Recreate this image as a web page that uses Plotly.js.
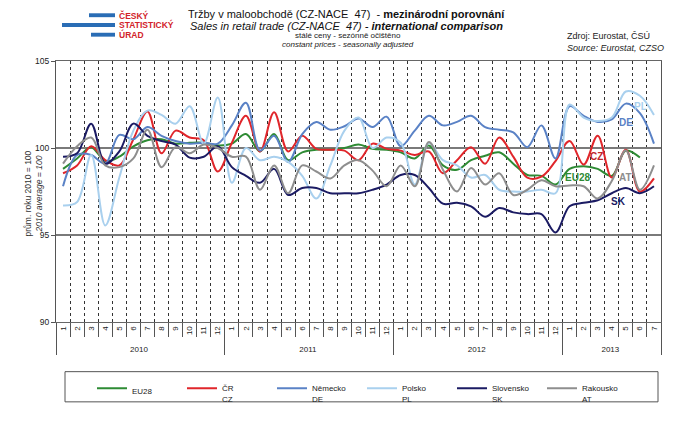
<!DOCTYPE html>
<html><head><meta charset="utf-8">
<script src="https://cdn.plot.ly/plotly-3.0.1.min.js"></script>
<style>html,body{margin:0;padding:0;background:#fff}#chart{width:688px;height:422px}</style>
</head><body><div id="chart"></div>
<script>
// Categories
const years = ['2010', '2011', '2012', '2013'];
const monthsPerYear = [12, 12, 12, 7];

// Series values (2010 average = 100), Jan 2010 .. Jul 2013
const eu28 = [98.8, 99.4, 100.05, 99.25, 99.5, 100.1, 100.45, 100.5, 100.25, 100.3, 100.3, 100.15,
  100.25, 100.8, 99.8, 100.8, 99.3, 99.75, 99.9, 99.9, 100.0, 100.2, 99.95, 99.9,
  99.75, 99.4, 100.15, 99.0, 98.75, 99.3, 99.55, 99.75, 99.1, 98.45, 98.4, 97.9,
  98.8, 98.95, 98.8, 98.4, 99.85, 99.45, null];
const cz = [98.55, 99.0, 100.1, 99.3, 99.0, 100.5, 102.1, 99.7, 101.0, 100.6, 100.45, 98.65,
  100.3, 101.85, 99.8, 102.05, 99.8, 100.7, 99.95, 99.9, 99.85, 99.3, 100.25, 99.95,
  99.85, 99.6, 99.8, 98.55, 99.3, 100.05, 99.1, 100.6, 99.5, 98.3, 98.35, 99.25,
  100.4, 99.05, 100.7, 98.3, 99.9, 97.5, 98.25];
const de = [97.8, 99.6, 99.6, 99.1, 100.75, 100.5, 101.2, 100.7, 100.4, 100.25, 100.3, 100.25,
  101.3, 102.6, 99.85, 100.7, 99.2, 100.8, 101.5, 101.05, 101.25, 101.7, 101.2, 101.8,
  100.1, 101.0, 101.85, 101.3, 101.5, 101.85, 101.2, 101.05, 100.9, 100.05, 101.3, 99.4,
  102.4, 101.85, 101.5, 101.65, 102.55, 102.0, 100.25];
const pl = [96.7, 96.9, 99.6, 95.55, 98.3, 101.0, 102.15, 101.9, 101.4, 102.4, 100.25, 102.9,
  98.0, 100.0, 99.3, 99.5, 99.2, 98.4, 97.1, 99.0, 101.0, 101.75, 100.0, 100.6,
  100.3, 97.9, 100.3, 99.3, 99.0, 98.3, 98.45, 97.6, 97.5, 97.5, 97.6, 97.4,
  102.5, 101.75, 101.55, 101.75, 103.25, 103.0, 101.9];
const sk = [99.5, 99.7, 101.4, 99.1, 99.8, 101.4, 100.7, 100.4, 100.2, 99.45, 99.5, 100.1,
  98.9, 98.4, 98.0, 98.8, 97.3, 97.7, 97.7, 97.4, 97.4, 97.4, 97.6, 97.9,
  98.45, 98.45, 97.7, 96.8, 96.85, 96.65, 96.05, 96.55, 96.3, 96.2, 96.2, 95.15,
  96.65, 96.85, 97.0, 97.4, 97.7, 97.4, 97.8];
const at = [99.1, 100.1, 100.6, 99.0, 98.9, 99.4, 101.05, 98.9, 100.05, 99.7, 100.2, 100.0,
  99.5, 99.5, 97.6, 99.0, 97.4, 99.0, 98.65, 98.25, 99.0, 99.3, 98.7, 97.8,
  99.0, 97.8, 100.35, 98.75, 97.5, 98.85, 97.9, 98.55, 97.3, 97.6, 98.15, 97.8,
  97.85, 97.8, 97.1, 98.1, 99.85, 97.6, 99.0];

const seriesNames = ['EU28', 'ČR<br>CZ', 'Německo<br>DE', 'Polsko<br>PL', 'Slovensko<br>SK', 'Rakousko<br>AT'];
const seriesColors = ['#2e8b34', '#e0262b', '#5a82c6', '#a9d0ee', '#1b1b63', '#8e8e8e'];
const yTicks = [90, 95, 100, 105];

// build the two-level category axis
const yearCat = [], monthCat = [];
years.forEach((y, k) => { for (let m = 1; m <= monthsPerYear[k]; m++) { yearCat.push(y); monthCat.push(String(m)); } });

const values = [eu28, cz, de, pl, sk, at];
const traces = values.map((v, i) => ({
  type: 'scatter', mode: 'lines',
  x: [yearCat, monthCat], y: v,
  name: seriesNames[i],
  line: { color: seriesColors[i], width: 2, shape: 'spline', smoothing: 1 },
  connectgaps: false, hoverinfo: 'skip'
}));

// pixel -> paper helpers (plot area 56..661 x 61..329)
const L = 56, R = 661, T = 61, B = 329;
const px = x => (x - L) / (R - L);
const py = y => (B - y) / (B - T);
const FONT = 'Liberation Sans, Arial, sans-serif';

function ann(text, x, y, size, color, opts) {
  return Object.assign({ text, x: px(x), y: py(y), xref: 'paper', yref: 'paper', showarrow: false,
    font: { family: FONT, size, color }, xanchor: 'center', yanchor: 'middle' }, opts || {});
}

const annotations = [
  ann('Tržby v maloobchodě (CZ-NACE  47)  - <b>mezinárodní porovnání</b>', 346, 13, 11, '#111'),
  ann('<i>Sales in retail trade (CZ-NACE  47) - <b>international comparison</b></i>', 346, 25, 11, '#111'),
  ann('stálé ceny - sezónně očištěno', 348, 35, 8, '#222'),
  ann('<i>constant prices - seasonally adjusted</i>', 348, 44, 8, '#222'),
  ann('Zdroj: Eurostat, ČSÚ<br><i>Source: Eurostat, CZSO</i>', 565, 42, 9, '#222', { xanchor: 'left', align: 'left' }),
  ann('<b>ČESKÝ</b>', 117, 14, 8.5, '#d2232a', { xanchor: 'left' }),
  ann('<b>STATISTICKÝ</b>', 117, 24, 8.5, '#d2232a', { xanchor: 'left' }),
  ann('<b>ÚRAD</b>', 117, 34, 8.5, '#d2232a', { xanchor: 'left' }),
  ann('prům. roku 2010 = 100<br><i>2010 average = 100</i>', 33, 197, 8.5, '#333', { textangle: -90 }),
  ann('<b>PL</b>', 640, 108, 10, '#a9d0ee'),
  ann('<b>DE</b>', 626, 124, 10, '#5a82c6'),
  ann('<b>CZ</b>', 596, 159, 10, '#c0262b'),
  ann('<b>EU28</b>', 577, 181, 10, '#2e8b34'),
  ann('<b>AT</b>', 625, 181, 10, '#8e8e8e'),
  ann('<b>SK</b>', 618, 205, 10, '#1b1b63')
];

const shapes = [
  // logo bars
  { type: 'rect', xref: 'paper', yref: 'paper', x0: px(89), x1: px(115), y0: py(16), y1: py(12), fillcolor: '#2a6db5', line: { width: 0 } },
  { type: 'rect', xref: 'paper', yref: 'paper', x0: px(62), x1: px(115), y0: py(26), y1: py(22), fillcolor: '#2a6db5', line: { width: 0 } },
  { type: 'rect', xref: 'paper', yref: 'paper', x0: px(91), x1: px(115), y0: py(36), y1: py(32), fillcolor: '#2a6db5', line: { width: 0 } },
  // legend frame
  { type: 'rect', xref: 'paper', yref: 'paper', x0: px(65), x1: px(658), y0: py(380), y1: py(411), line: { color: '#555', width: 1 }, fillcolor: 'rgba(0,0,0,0)' }
];

const layout = {
  width: 688, height: 422,
  margin: { l: L, r: 688 - R, t: T, b: 422 - B },
  paper_bgcolor: '#fff', plot_bgcolor: '#fff',
  font: { family: FONT, size: 8, color: '#222' },
  showlegend: true,
  legend: { orientation: 'h', x: px(92), y: py(385), xanchor: 'left', yanchor: 'top',
    font: { family: FONT, size: 8, color: '#222' }, valign: 'top', bgcolor: 'rgba(0,0,0,0)', borderwidth: 0,
    itemwidth: 30, entrywidth: 45, entrywidthmode: 'pixels' },
  xaxis: {
    type: 'multicategory', range: [-0.5, 42.5], fixedrange: true,
    showgrid: true, gridcolor: '#333', griddash: 'dot', gridwidth: 1,
    tickson: 'boundaries', ticks: 'outside', ticklen: 14, tickcolor: '#555',
    tickangle: -90, tickfont: { family: FONT, size: 8, color: '#222' },
    showdividers: true, dividercolor: '#555', dividerwidth: 1,
    showline: true, linecolor: '#666', linewidth: 1, mirror: true, zeroline: false
  },
  yaxis: {
    range: [90, 105], tickvals: yTicks, ticktext: yTicks.map(String), fixedrange: true,
    showgrid: true, gridcolor: '#7a7a7a', gridwidth: 1.5,
    ticks: 'outside', ticklen: 4, tickcolor: '#555',
    tickfont: { family: FONT, size: 8.5, color: '#222' },
    showline: true, linecolor: '#555', linewidth: 1, mirror: true, zeroline: false
  },
  annotations, shapes
};

Plotly.newPlot('chart', traces, layout, { staticPlot: true, displayModeBar: false });
</script>
</body></html>
